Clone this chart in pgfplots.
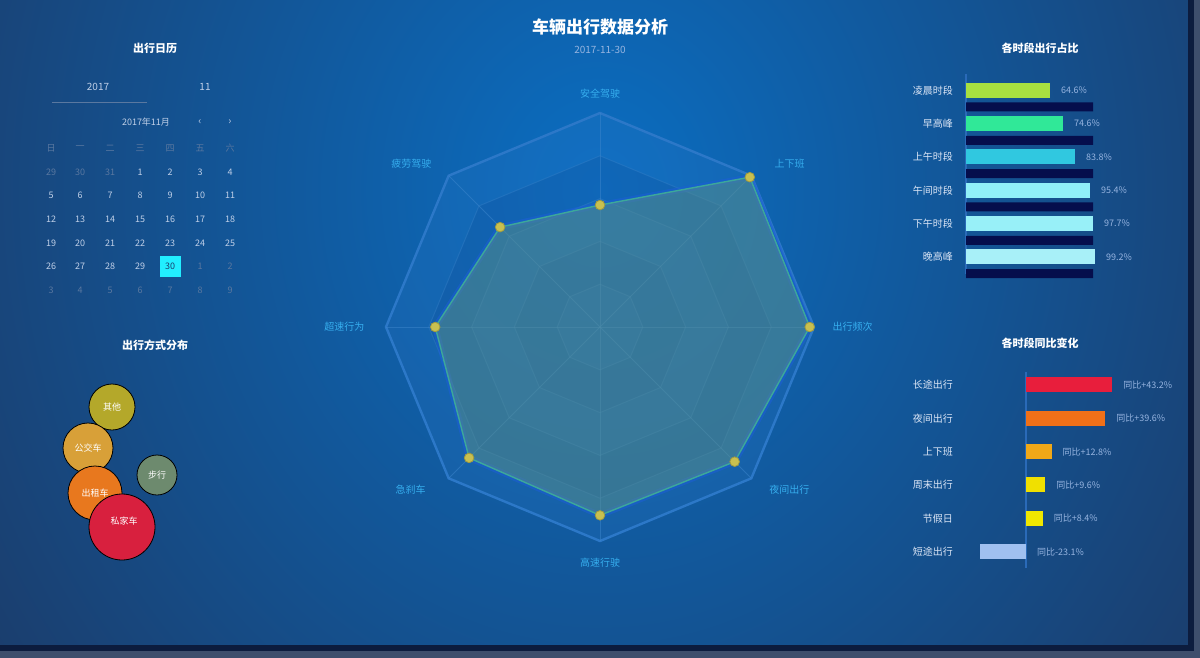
\documentclass[border=0pt]{standalone}
\usepackage{fontspec}
\setmainfont{Noto Sans CJK SC}
\usepackage{pgfplots}
\pgfplotsset{compat=1.18}
\usepgfplotslibrary{polar}

\definecolor{bg}{HTML}{1B3D6C}
\definecolor{glow}{HTML}{0A6EC2}
\definecolor{edgedark}{HTML}{0C1C3E}
\definecolor{edgegray}{HTML}{3E4E6C}
\definecolor{ttl}{HTML}{FFFFFF}
\definecolor{lbl}{HTML}{DCE6F6}
\definecolor{vallbl}{HTML}{96B4E0}
\definecolor{radlbl}{HTML}{36AEEE}
\definecolor{ringA}{HTML}{2C78C8}
\definecolor{ringB}{HTML}{0B4A96}
\definecolor{ringline}{HTML}{3D86CC}
\definecolor{polyfill}{HTML}{5A9088}
\definecolor{polyline}{HTML}{3CA89A}
\definecolor{polyglow}{HTML}{1C5ED8}
\definecolor{dotc}{HTML}{C8C050}
\definecolor{axisblue}{HTML}{2A6AB8}
\definecolor{strip}{HTML}{050E4C}
\definecolor{ta}{HTML}{A8E040}
\definecolor{tb}{HTML}{30E898}
\definecolor{tc}{HTML}{30C8E0}
\definecolor{td}{HTML}{90F0F8}
\definecolor{te}{HTML}{98F0F8}
\definecolor{tf}{HTML}{A8F0F8}
\definecolor{ba}{HTML}{E81E3C}
\definecolor{bb}{HTML}{F07018}
\definecolor{bc}{HTML}{F0A818}
\definecolor{bd}{HTML}{F0E000}
\definecolor{be}{HTML}{F0E800}
\definecolor{bf}{HTML}{A0C0F0}
\definecolor{calnorm}{HTML}{C0D0E8}
\definecolor{caldim}{HTML}{5A78A0}
\definecolor{calhl}{HTML}{22EEFF}
\definecolor{bolive}{HTML}{B4A82A}
\definecolor{bgold}{HTML}{D8A038}
\definecolor{borange}{HTML}{E8781E}
\definecolor{bred}{HTML}{D8203E}
\definecolor{bgreen}{HTML}{6D8A6E}
\definecolor{bshadow}{HTML}{10206A}

\newcommand\fs[1]{\fontsize{#1}{#1}\selectfont}

\pgfplotsset{
  calnum/.style={draw=none, no markers, nodes near coords, point meta=explicit symbolic,
    every node near coord/.style={anchor=center, inner sep=0pt, font=\fs{4.5}, text=#1}},
  vals/.style={nodes near coords={\pgfmathprintnumber[fixed,precision=1,fixed zerofill]{\pgfplotspointmeta}\%},
    point meta=x},
  bubble/.style={only marks, mark=*, mark size=#1,
    mark options={draw=bshadow, line width=1.5pt, draw opacity=0.6, fill opacity=0.88}},
}

\begin{document}
% picture units: 1 px of the 1200x658 reference = 0.5pt, y grows downwards
\begin{tikzpicture}[x=0.5pt,y=-0.5pt]
\useasboundingbox (0,0) rectangle (1200,658);
\fill[bg] (0,0) rectangle (1200,658);
\begin{scope}
  \clip (0,0) rectangle (1188,645);
  \shade[inner color=glow, outer color=bg] (600,190) ellipse (370pt and 420pt);
\end{scope}
\fill[edgedark] (0,645) rectangle (1200,651);
\fill[edgegray] (0,651) rectangle (1200,658);
\fill[edgedark] (1188,0) rectangle (1194,651);
\fill[edgegray] (1194,0) rectangle (1200,658);

% titles
\node[text=ttl, font=\fs{8.5}\bfseries] at (600,27) {车辆出行数据分析};
\node[text=vallbl, font=\fs{5}] at (600,50) {2017-11-30};
\node[text=ttl, font=\fs{5.5}\bfseries] at (155,48) {出行日历};
\node[text=ttl, font=\fs{5.5}\bfseries] at (155,345) {出行方式分布};
\node[text=ttl, font=\fs{5.5}\bfseries] at (1040,48) {各时段出行占比};
\node[text=ttl, font=\fs{5.5}\bfseries] at (1040,343) {各时段同比变化};

% calendar
\node[text=calnorm, font=\fs{5}] at (98,87) {2017};
\node[text=calnorm, font=\fs{5}] at (205,87) {11};
\draw[caldim, line width=0.4pt] (52,102) -- (147,102);
\node[text=calnorm, font=\fs{4.5}] at (146,122) {2017年11月};
\node[text=calnorm, font=\fs{5}] at (200,122) {‹};
\node[text=calnorm, font=\fs{5}] at (230,122) {›};

\begin{axis}[at={(20pt,-35pt)}, anchor=north west, x=0.5pt, y=0.5pt, y dir=reverse,
  xmin=40, xmax=240, ymin=70, ymax=300, hide axis, clip=false]
\addplot[calnum=caldim] table[meta=t] {
x y t
51 148 日
80 148 一
110 148 二
140 148 三
170 148 四
200 148 五
230 148 六
51 172 29
80 172 30
110 172 31
200 266 1
230 266 2
51 290 3
80 290 4
110 290 5
140 290 6
170 290 7
200 290 8
230 290 9
};
\addplot[calnum=calnorm] table[meta=t] {
x y t
140 172 1
170 172 2
200 172 3
230 172 4
51 195 5
80 195 6
110 195 7
140 195 8
170 195 9
200 195 10
230 195 11
51 219 12
80 219 13
110 219 14
140 219 15
170 219 16
200 219 17
230 219 18
51 243 19
80 243 20
110 243 21
140 243 22
170 243 23
200 243 24
230 243 25
51 266 26
80 266 27
110 266 28
140 266 29
};
\addplot[only marks, mark=square*, mark size=5pt, mark options={fill=calhl, draw=calhl}]
  coordinates {(170,266)};
\addplot[calnum=bg] table[meta=t] {
x y t
170 266 30
};
\end{axis}

% bubbles
\begin{axis}[at={(20pt,-180pt)}, anchor=north west, x=0.5pt, y=0.5pt, y dir=reverse,
  xmin=40, xmax=240, ymin=360, ymax=600, hide axis, clip=false]
\addplot[bubble=11.5pt, mark options={fill=bolive}] coordinates {(112,407)};
\addplot[bubble=12.5pt, mark options={fill=bgold}] coordinates {(88,448)};
\addplot[bubble=13.5pt, mark options={fill=borange}] coordinates {(95,493)};
\addplot[bubble=16.5pt, mark options={fill=bred}] coordinates {(122,527)};
\addplot[bubble=10pt, mark options={fill=bgreen}] coordinates {(157,475)};
\addplot[calnum=white] table[meta=t] {
x y t
112 407 其他
88 448 公交车
95 493 出租车
124 521 私家车
157 475 步行
};
\end{axis}

% radar
\begin{polaraxis}[at={(300pt,-163.5pt)}, anchor=center, scale only axis, width=214pt, height=214pt,
  hide axis, ymin=0, ymax=1, xmin=0, xmax=360, clip=false]
\addplot[draw=ringA, line width=1.2pt, fill=ringA, fill opacity=0.22]
  coordinates {(0,1)(45,1)(90,1)(135,1)(180,1)(225,1)(270,1)(315,1)(360,1)};
\addplot[draw=ringline, line width=0.5pt, draw opacity=0.35, fill=ringB, fill opacity=0.22]
  coordinates {(0,0.8)(45,0.8)(90,0.8)(135,0.8)(180,0.8)(225,0.8)(270,0.8)(315,0.8)(360,0.8)};
\addplot[draw=ringline, line width=0.5pt, draw opacity=0.35, fill=ringA, fill opacity=0.18]
  coordinates {(0,0.6)(45,0.6)(90,0.6)(135,0.6)(180,0.6)(225,0.6)(270,0.6)(315,0.6)(360,0.6)};
\addplot[draw=ringline, line width=0.5pt, draw opacity=0.35, fill=ringB, fill opacity=0.18]
  coordinates {(0,0.4)(45,0.4)(90,0.4)(135,0.4)(180,0.4)(225,0.4)(270,0.4)(315,0.4)(360,0.4)};
\addplot[draw=ringline, line width=0.5pt, draw opacity=0.35, fill=ringA, fill opacity=0.18]
  coordinates {(0,0.2)(45,0.2)(90,0.2)(135,0.2)(180,0.2)(225,0.2)(270,0.2)(315,0.2)(360,0.2)};
\pgfplotsinvokeforeach{0,45,90,135,180,225,270,315}{
  \addplot[draw=ringline, line width=0.5pt, draw opacity=0.5] coordinates {(#1,0)(#1,1)};
}
\addplot[draw=polyglow, line width=3pt, draw opacity=0.55]
  coordinates {(90,0.57)(45,0.99)(0,0.98)(315,0.89)(270,0.88)(225,0.865)(180,0.77)(135,0.66)(90,0.57)};
\addplot[draw=polyline, line width=0.7pt, fill=polyfill, fill opacity=0.5]
  coordinates {(90,0.57)(45,0.99)(0,0.98)(315,0.89)(270,0.88)(225,0.865)(180,0.77)(135,0.66)(90,0.57)};
\addplot[only marks, mark=*, mark size=2.4pt, mark options={fill=dotc, draw=dotc!80!black}]
  coordinates {(90,0.57)(45,0.99)(0,0.98)(315,0.89)(270,0.88)(225,0.865)(180,0.77)(135,0.66)};
\node[text=radlbl, font=\fs{5}] at (axis cs:90,1.09) {安全驾驶};
\node[text=radlbl, font=\fs{5}] at (axis cs:40.8,1.17) {上下班};
\node[text=radlbl, font=\fs{5}] at (axis cs:0,1.18) {出行频次};
\node[text=radlbl, font=\fs{5}] at (axis cs:319.4,1.165) {夜间出行};
\node[text=radlbl, font=\fs{5}] at (axis cs:270,1.10) {高速行驶};
\node[text=radlbl, font=\fs{5}] at (axis cs:220.6,1.165) {急刹车};
\node[text=radlbl, font=\fs{5}] at (axis cs:180,1.195) {超速行为};
\node[text=radlbl, font=\fs{5}] at (axis cs:139.2,1.165) {疲劳驾驶};
\end{polaraxis}

% right top bars
\begin{axis}[at={(483pt,-36.8pt)}, anchor=north west, scale only axis, width=65pt, height=100pt,
  xmin=0, xmax=100, ymin=0.5, ymax=6.5, y dir=reverse,
  axis x line=none, axis y line=left, y axis line style={draw=axisblue, line width=0.6pt, -},
  ytick={1,...,6}, yticklabels={凌晨时段,早高峰,上午时段,午间时段,下午时段,晚高峰},
  major tick length=0pt, yticklabel style={font=\fs{5}, text=lbl, xshift=-3pt},
  /pgf/number format/assume math mode=true,
  clip=false, every axis plot/.append style={xbar, bar shift=0pt, draw=none},
  bar width=7.5pt,
  every node near coord/.append style={font=\fs{4.5}, text=vallbl, anchor=west, xshift=2pt}]
\addplot[fill=strip, bar width=4.5pt]
  coordinates {(97.7,1.5)(97.7,2.5)(97.7,3.5)(97.7,4.5)(97.7,5.5)(97.7,6.5)};
\addplot[fill=ta, vals] coordinates {(64.6,1)};
\addplot[fill=tb, vals] coordinates {(74.6,2)};
\addplot[fill=tc, vals] coordinates {(83.8,3)};
\addplot[fill=td, vals] coordinates {(95.4,4)};
\addplot[fill=te, vals] coordinates {(97.7,5)};
\addplot[fill=tf, vals] coordinates {(99.2,6)};
\end{axis}

% right bottom bars
\begin{axis}[at={(484pt,-184.15pt)}, anchor=north west, scale only axis, width=80pt, height=100pt,
  xmin=-29, xmax=51, ymin=0.5, ymax=6.5, y dir=reverse,
  axis x line=none, axis y line=left, y axis line style={draw=none},
  ytick={1,...,6}, yticklabels={长途出行,夜间出行,上下班,周末出行,节假日,短途出行},
  major tick length=0pt, yticklabel style={font=\fs{5}, text=lbl, xshift=-4pt},
  clip=false, bar width=7.5pt,
  every node near coord/.append style={font=\fs{4.5}, text=vallbl, anchor=west, xshift=2pt}]
\addplot[draw=axisblue, line width=0.6pt] coordinates {(0,0.6)(0,6.5)};
\addplot[xbar, bar shift=0pt, draw=none, fill=ba] coordinates {(43.2,1)};
\addplot[xbar, bar shift=0pt, draw=none, fill=bb] coordinates {(39.6,2)};
\addplot[xbar, bar shift=0pt, draw=none, fill=bc] coordinates {(12.8,3)};
\addplot[xbar, bar shift=0pt, draw=none, fill=bd] coordinates {(9.6,4)};
\addplot[xbar, bar shift=0pt, draw=none, fill=be] coordinates {(8.4,5)};
\addplot[xbar, bar shift=0pt, draw=none, fill=bf] coordinates {(-23.1,6)};
\addplot[draw=none, no markers, nodes near coords, point meta=explicit symbolic] table[meta=t] {
x y t
43.2 1 同比+43.2\%
39.6 2 同比+39.6\%
12.8 3 同比+12.8\%
9.6 4 同比+9.6\%
8.4 5 同比+8.4\%
0 6 同比-23.1\%
};
\end{axis}
\end{tikzpicture}
\end{document}
